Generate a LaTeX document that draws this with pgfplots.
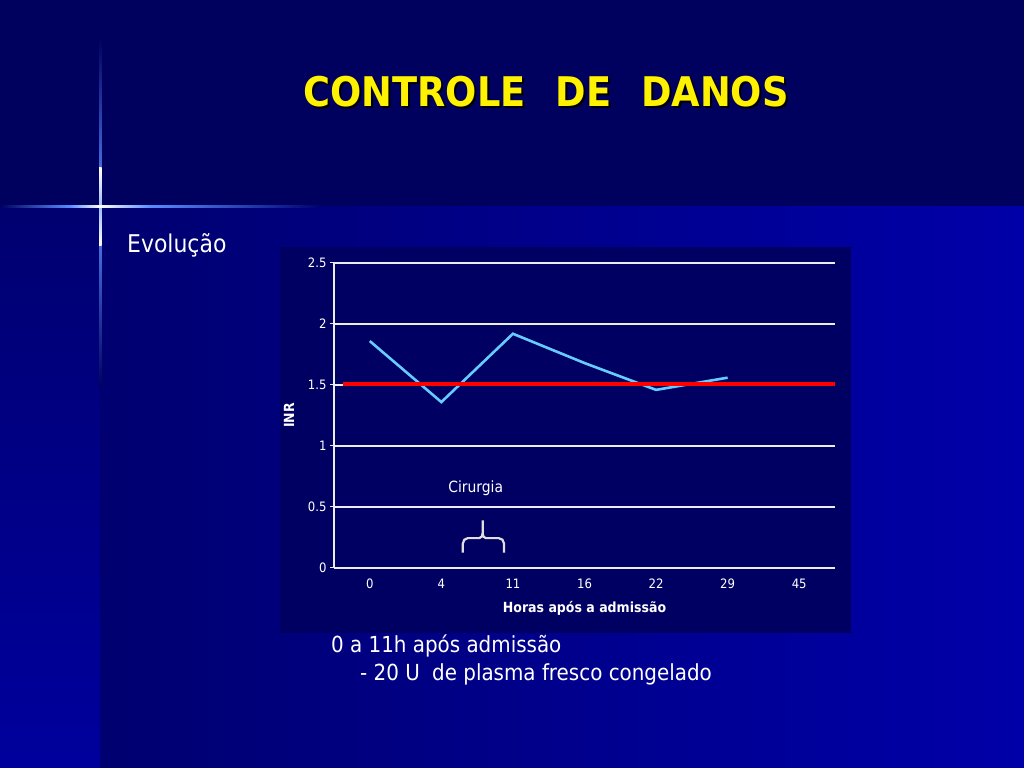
\documentclass[border=0pt]{standalone}
\usepackage{fontspec}
\setmainfont{DejaVu Sans Condensed}
\usepackage{pgfplots}
\pgfplotsset{compat=1.18}
\definecolor{navy}{HTML}{00005E}
\definecolor{chartbg}{HTML}{000062}
\definecolor{midblue}{HTML}{000070}
\definecolor{bluebright}{HTML}{0000A8}
\definecolor{inrblue}{HTML}{66CCFF}
\definecolor{glow}{HTML}{5A8CFF}
\begin{document}
\begin{tikzpicture}[x=1bp,y=1bp]
\useasboundingbox (0,0) rectangle (1024,768);
\fill[navy] (0,0) rectangle (1024,768);
\shade[left color=midblue, right color=bluebright] (100,0) rectangle (1024,561);
\shade[top color=midblue, bottom color=bluebright!85!navy] (0,0) rectangle (100,561);
% cross glow
\shade[top color=navy, bottom color=glow] (99,561) rectangle (101.5,730);
\shade[top color=glow, bottom color=navy] (99,380) rectangle (101.5,561);
\shade[top color=white, bottom color=white!40!glow] (99,561) rectangle (101.5,600);
\shade[top color=white!40!glow, bottom color=white] (99,522) rectangle (101.5,561);
\shade[left color=navy, right color=glow] (0,560) rectangle (70,562.5);
\shade[left color=glow, right color=white] (70,560) rectangle (100,562.5);
\shade[left color=white, right color=glow] (100,560) rectangle (150,562.5);
\shade[left color=glow, right color=midblue] (150,560) rectangle (320,562.5);
% title
\node[anchor=base, text=black, font=\fontsize{41}{48}\bfseries\selectfont] at (548,659) {CONTROLE\hspace{30bp}DE\hspace{30bp}DANOS};
\node[anchor=base, text=yellow, font=\fontsize{41}{48}\bfseries\selectfont] at (546,661) {CONTROLE\hspace{30bp}DE\hspace{30bp}DANOS};
\node[anchor=base west, inner sep=0, text=white, font=\fontsize{24.5}{29}\selectfont] at (127,515) {Evolução};
% chart bg
\fill[chartbg] (280,135) rectangle (851,521);
\begin{axis}[
  at={(334bp,200bp)}, anchor=south west,
  scale only axis, width=501bp, height=305bp,
  xmin=-0.5, xmax=6.5, ymin=0, ymax=2.5,
  axis lines*=left,
  axis line style={white!85!gray, line width=1.1bp},
  xtick={0,1,2,3,4,5,6},
  xticklabels={0,4,11,16,22,29,45},
  ytick={0,0.5,1,1.5,2,2.5},
  yticklabels={0,0.5,1,1.5,2,2.5},
  x tick style={draw=none},
  y tick style={white!85!gray, line width=1bp},
  tick align=outside, major tick length=4bp,
  ymajorgrids, grid style={white!85!gray, line width=1.1bp},
  ticklabel style={text=white, font=\fontsize{13}{15}\selectfont},
  /pgf/number format/assume math mode=true,
  xticklabel style={yshift=-3bp, text height=9.5bp, text depth=0bp},
  ylabel={INR}, xlabel={Horas após a admissão},
  label style={text=white, font=\fontsize{14}{16}\bfseries\selectfont},
  ylabel style={at={(axis description cs:-0.09,0.5)}, anchor=center},
  xlabel style={at={(axis description cs:0.5,-0.131)}, anchor=center},
  clip=false,
]
\addplot[inrblue, line width=2.6bp] coordinates {(0,1.86) (1,1.36) (2,1.92) (3,1.68) (4,1.46) (5,1.56)};
\addplot[red, line width=4bp] coordinates {(-0.38,1.51) (6.5,1.51)};
\node[text=white, font=\fontsize{15.5}{18}\selectfont] at (axis cs:1.48,0.65) {Cirurgia};
\draw[white!75!gray, line width=2.2bp]
  (axis cs:1.30,0.126) -- (axis cs:1.30,0.20) to[out=90,in=180] (axis cs:1.37,0.245) -- (axis cs:1.53,0.245) to[out=0,in=-90] (axis cs:1.577,0.285) -- (axis cs:1.577,0.39);
\draw[white!75!gray, line width=2.2bp]
  (axis cs:1.577,0.285) to[out=-90,in=180] (axis cs:1.62,0.245) -- (axis cs:1.80,0.245) to[out=0,in=90] (axis cs:1.876,0.20) -- (axis cs:1.876,0.126);
\end{axis}
\node[anchor=base west, inner sep=0, text=white, font=\fontsize{22.2}{26}\selectfont] at (331,115) {0 a 11h após admissão};
\node[anchor=base west, inner sep=0, text=white, font=\fontsize{22.2}{26}\selectfont] at (360,87) {- 20 U\hspace{6bp} de plasma fresco congelado};
\end{tikzpicture}
\end{document}
